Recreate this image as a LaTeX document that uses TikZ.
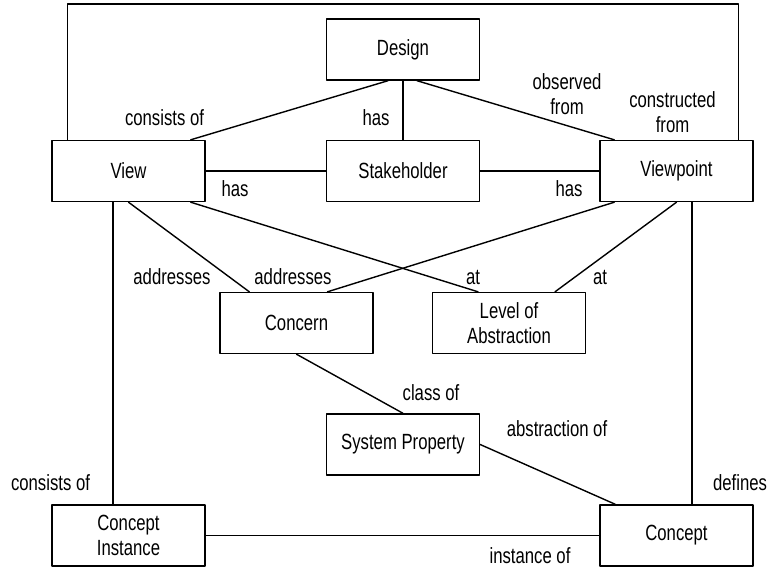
\documentclass[tikz,border=0pt]{standalone}
\usepackage{fontspec}
\setmainfont{Liberation Sans}[FakeStretch=0.76]

\begin{document}
\begin{tikzpicture}[line cap=round,line join=round,x=1pt,y=-1pt,
		box/.style={draw,line width=1.4pt,minimum width=153pt,minimum height=61pt,align=center,inner sep=0pt},
		lbl/.style={align=center,inner sep=0pt},
		every node/.append style={font=\fontsize{22}{25}\selectfont}]
		\useasboundingbox (0,0) rectangle (774,568);
		% entities
		\node[box] (design) at (403,49.5) {Design};
		\node[box] (view) at (128.5,171) {View};
		\node[box] (stake) at (403,171) {Stakeholder};
		\node[box] (vpoint) at (676.5,171) {Viewpoint};
		\node[box] (concern) at (296.5,323) {Concern};
		\node[box] (level) at (509,323) {Level of\\Abstraction};
		\node[box] (sysprop) at (403,444.5) {System Property};
		\node[box] (cinst) at (128.5,535.5) {Concept\\Instance};
		\node[box] (concept) at (676.5,535.5) {Concept};
		\coordinate (top) at (403,4);
		% relations
		\draw [line width=1.4pt] ([xshift=16pt]view.north west) |- (top) -| ([xshift=-15pt]vpoint.north east);
		\draw [line width=1.4pt] ([xshift=-15pt]design.south) -- ([xshift=-15pt]view.north east);
		\draw [line width=1.4pt] (design.south) -- (stake.north);
		\draw [line width=1.4pt] ([xshift=14pt]design.south) -- ([xshift=15pt]vpoint.north west);
		\draw [line width=1.4pt] (view.east) -- (stake.west);
		\draw [line width=1.4pt] (stake.east) -- (vpoint.west);
		\draw [line width=1.4pt] ([xshift=-15.5pt]view.south) -- ([xshift=-15.5pt]cinst.north);
		\draw [line width=1.4pt] (view.south) -- ([xshift=30pt]concern.north west);
		\draw [line width=1.4pt] ([xshift=-15pt]view.south east) -- ([xshift=-31pt]level.north);
		\draw [line width=1.4pt] ([xshift=15pt]vpoint.south west) -- ([xshift=31pt]concern.north);
		\draw [line width=1.4pt] (vpoint.south) -- ([xshift=46pt]level.north);
		\draw [line width=1.4pt] ([xshift=15.5pt]vpoint.south) -- ([xshift=15.5pt]concept.north);
		\draw [line width=1.4pt] (concern.south) -- (sysprop.north);
		\draw [line width=1.4pt] (sysprop.east) -- ([xshift=16pt]concept.north west);
		\draw [line width=1.4pt] (cinst.east) -- (concept.west);
		% labels
		\node[lbl] (l1) at (164.5,118) {consists of};
		\node[lbl] (l2) at (376,118) {has};
		\node[lbl] (l3) at (567,94) {observed\\from};
		\node[lbl] (l4) at (672.5,112) {constructed\\from};
		\node[lbl] (l5) at (235,189) {has};
		\node[lbl] (l6) at (569,189) {has};
		\node[lbl] (l7) at (172,277) {addresses};
		\node[lbl] (l8) at (293,277) {addresses};
		\node[lbl] (l9) at (473,277) {at};
		\node[lbl] (l10) at (600,277) {at};
		\node[lbl] (l11) at (431,393) {class of};
		\node[lbl] (l12) at (557,429) {abstraction of};
		\node[lbl] (l13) at (50.5,483) {consists of};
		\node[lbl] (l14) at (740,483) {defines};
		\node[lbl] (l15) at (530,556) {instance of};
	\end{tikzpicture}
\end{document}
